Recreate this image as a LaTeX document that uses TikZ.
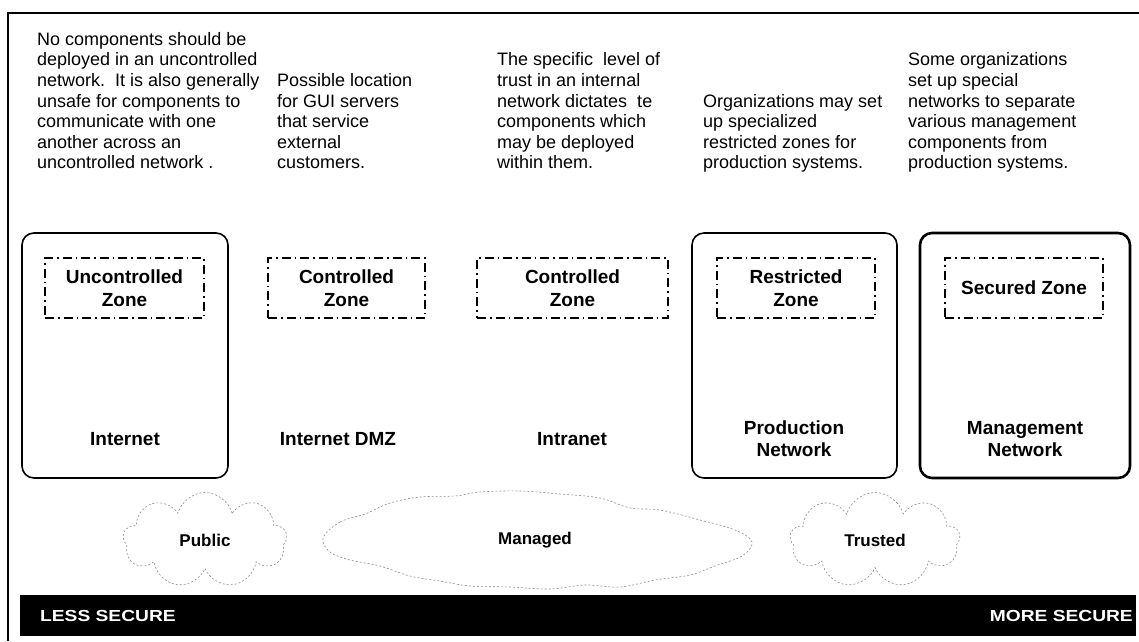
\documentclass[tikz,border=0pt]{standalone}
\usepackage{fontspec}
\setmainfont{Liberation Sans}
\usetikzlibrary{shapes.symbols}
\begin{document}
\begin{tikzpicture}[x=1pt,y=-1pt,
  desc/.style={anchor=north west,inner sep=0pt,align=left,font=\fontsize{18}{20.6}\selectfont},
  netbox/.style={draw,rounded corners=12pt,line width=1.6pt,inner sep=0pt,minimum height=245pt},
  zonebox/.style={draw,line width=1.2pt,dash pattern=on 9pt off 4pt on 1.5pt off 4pt,minimum height=60pt,inner sep=0pt,align=center,font=\fontsize{19}{23}\selectfont\bfseries},
  netlabel/.style={align=center,inner sep=0pt,font=\fontsize{19}{22}\selectfont\bfseries},
  cloudline/.style={draw=black!45,line width=0.6pt,dash pattern=on 2pt off 2pt},
  cloudnode/.style={cloud,cloud ignores aspect,cloudline,inner sep=0pt,font=\fontsize{17}{20}\selectfont\bfseries},
  cloudtext/.style={inner sep=0pt,font=\fontsize{17}{20}\selectfont\bfseries},
  bartext/.style={text=white,inner sep=0pt,font=\fontsize{16}{18}\selectfont\bfseries}
]
\useasboundingbox (0,0) rectangle (1139,641);
% frame
\coordinate (fb) at (8,641);
\coordinate (ftl) at (8,13);
\coordinate (ftr) at (1139,13);
\draw[line width=1.3pt] (fb) -- (ftl) -- (ftr);

% descriptions
\node[desc] (d1) at (37,32) {No components should be\\deployed in an uncontrolled\\network.\ \ It is also generally\\unsafe for components to\\communicate with one\\another across an\\uncontrolled network .};
\node[desc] (d2) at (277,73.2) {Possible location\\for GUI servers\\that service\\external\\customers.};
\node[desc] (d3) at (497,52.6) {The specific\ \ level of\\trust in an internal\\network dictates\ \ te\\components which\\may be deployed\\within them.};
\node[desc] (d4) at (703,93.8) {Organizations may set\\up specialized\\restricted zones for\\production systems.};
\node[desc] (d5) at (908,52.6) {Some organizations\\set up special\\networks to separate\\various management\\components from\\production systems.};

% network boxes
\node[netbox,minimum width=206pt] (inet) at (125,355.5) {};
\node[netbox,minimum width=205pt] (prod) at (794.5,355.5) {};
\node[netbox,minimum width=210pt,line width=2.6pt] (mgmt) at (1025,355.5) {};

% zones
\node[zonebox,minimum width=159pt] (z1) at (124.5,288) {Uncontrolled\\Zone};
\node[zonebox,minimum width=157pt] (z2) at (346.5,288) {Controlled\\Zone};
\node[zonebox,minimum width=191pt] (z3) at (572.5,288) {Controlled\\Zone};
\node[zonebox,minimum width=158pt] (z4) at (796,288) {Restricted\\Zone};
\node[zonebox,minimum width=158pt] (z5) at (1024,288) {Secured Zone};

% network labels
\node[netlabel] (l1) at (125,439) {Internet};
\node[netlabel] (l2) at (338,439) {Internet DMZ};
\node[netlabel] (l3) at (572,439) {Intranet};
\node[netlabel] (l4) at (794,439) {Production\\Network};
\node[netlabel] (l5) at (1025,439) {Management\\Network};

% clouds
\node[cloudnode,cloud puffs=9,minimum width=164pt,minimum height=95pt] (c1) at (205,540) {Public};
\draw[cloudline] plot[smooth cycle,tension=0.6] coordinates {
  (323,538) (340,522) (365,514) (390,503) (420,497) (455,496) (480,492)
  (520,491) (560,494) (600,498) (630,508) (660,510) (700,520) (735,530) (752,542)
  (742,556) (715,566) (690,575) (655,580) (620,587) (585,585) (550,589)
  (510,587) (470,586) (440,581) (410,576) (380,566) (350,560) (330,552)};
\node[cloudtext] (c2) at (535,540) {Managed};
\node[cloudnode,cloud puffs=9,minimum width=170pt,minimum height=95pt] (c3) at (875,540) {Trusted};

% security bar
\node[fill=black,minimum width=1116pt,minimum height=41pt,inner sep=0pt] (bar) at (578,615.5) {};
\node[bartext,anchor=west] (less) at (40,615.5) {\scalebox{1.2}[1]{LESS SECURE}};
\node[bartext,anchor=east] (more) at (1133,615.5) {\scalebox{1.2}[1]{MORE SECURE}};
\end{tikzpicture}
\end{document}
